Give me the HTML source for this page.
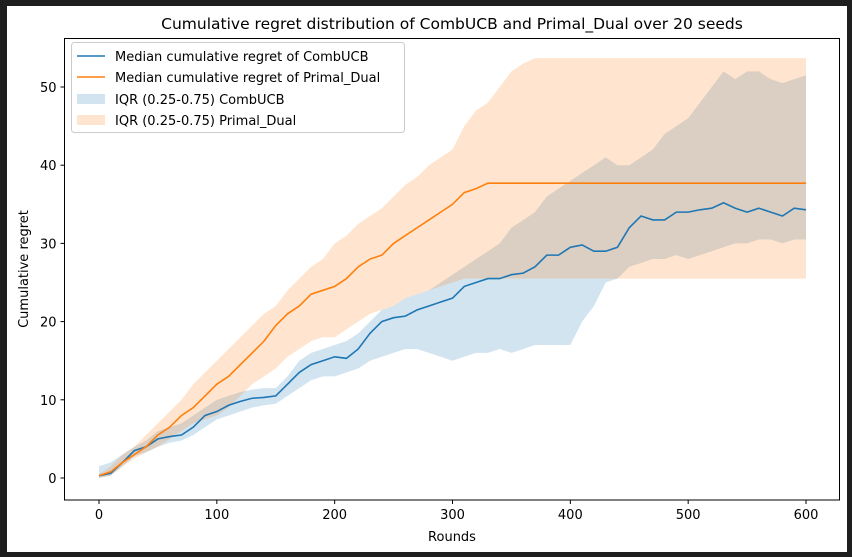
<!DOCTYPE html>
<html><head><meta charset="utf-8">
<style>
html,body{margin:0;padding:0;background:#1e1e1e;}
#wrap{position:absolute;left:7px;top:6px;width:840px;height:546px;background:#fff;}
svg{position:absolute;left:0;top:0;}
text{font-family:"DejaVu Sans","Liberation Sans",sans-serif;fill:#000;}
</style></head>
<body>
<div id="wrap"></div>
<svg id="chart" width="852" height="557"></svg>
<script>
const rounds = [0,10,20,30,40,50,60,70,80,90,100,110,120,130,140,150,160,170,180,190,200,210,220,230,240,250,260,270,280,290,300,310,320,330,340,350,360,370,380,390,400,410,420,430,440,450,460,470,480,490,500,510,520,530,540,550,560,570,580,590,600];
const combMed = [0.3,0.6,2,3.5,4,5,5.3,5.5,6.5,8,8.5,9.3,9.8,10.2,10.3,10.5,12,13.5,14.5,15,15.5,15.3,16.5,18.5,20,20.5,20.7,21.5,22,22.5,23,24.5,25,25.5,25.5,26,26.2,27,28.5,28.5,29.5,29.8,29,29,29.5,32,33.5,33,33,34,34,34.3,34.5,35.2,34.5,34,34.5,34,33.5,34.5,34.3];
const combLow = [0,0.3,1.5,2.8,3.3,4,4.5,4.8,5.5,6.5,7.5,8,8.5,9,9.3,9.5,10.5,11.5,12.5,13,13,13.5,14,15,15.5,16,16.5,16.5,16,15.5,15,15.5,16,16,16.5,16,16.5,17,17,17,17,20,22,25,25.5,27,27.5,28,28,28.5,28,28.5,29,29.5,30,30,30.5,30.5,30,30.5,30.5];
const combHigh = [1.5,2,3,4,4.8,6,6.5,7,8,9,10,10.5,11,11.3,11.5,11.5,13,15,16,16.5,17,17.5,18.5,20,21.5,22,23,23.5,24,25,26,27,28,29,30,32,33,34,36,37,38,39,40,41,40,40,41,42,44,45,46,48,50,52,51,52,52,51,50.5,51,51.5];
const pdMed = [0.3,0.8,2,3,4,5.5,6.5,8,9,10.5,12,13,14.5,16,17.5,19.5,21,22,23.5,24,24.5,25.5,27,28,28.5,30,31,32,33,34,35,36.5,37,37.7,37.7,37.7,37.7,37.7,37.7,37.7,37.7,37.7,37.7,37.7,37.7,37.7,37.7,37.7,37.7,37.7,37.7,37.7,37.7,37.7,37.7,37.7,37.7,37.7,37.7,37.7,37.7];
const pdLow = [0,0.3,1.5,2.5,3.3,4,5,6,7,7.5,8,9,10.5,12,13,14,15.5,16.5,17.5,18,18,19,20,21,21.5,22,23,23.5,24,24.5,25,25.5,25.5,25.5,25.5,25.5,25.5,25.5,25.5,25.5,25.5,25.5,25.5,25.5,25.5,25.5,25.5,25.5,25.5,25.5,25.5,25.5,25.5,25.5,25.5,25.5,25.5,25.5,25.5,25.5,25.5];
const pdHigh = [0.5,1.5,3,4,5.5,7,8.5,10,12,13.5,15,16.5,18,19.5,21,22,24,25.5,27,28,30,31,32.5,33.5,34.5,36,37.5,38.5,40,41,42,45,47,48,50,52,53,53.7,53.7,53.7,53.7,53.7,53.7,53.7,53.7,53.7,53.7,53.7,53.7,53.7,53.7,53.7,53.7,53.7,53.7,53.7,53.7,53.7,53.7,53.7,53.7];
const xTicks = [0,100,200,300,400,500,600];
const yTicks = [0,10,20,30,40,50];

const NS="http://www.w3.org/2000/svg";
const svg=document.getElementById('chart');
const L=64.5,R=839.5,T=38.5,B=500;
const xs=v=>99+v*(806-99)/600;
const ys=v=>478-v*(478-87)/50;
function mk(tag,attrs,parent){const e=document.createElementNS(NS,tag);for(const k in attrs)e.setAttribute(k,attrs[k]);(parent||svg).appendChild(e);return e;}
function band(lo,hi,color,name){
  let d='M'+rounds.map((r,i)=>xs(r)+','+ys(hi[i])).join('L');
  for(let i=rounds.length-1;i>=0;i--)d+='L'+xs(rounds[i])+','+ys(lo[i]);
  const p=mk('path',{d:d+'Z',fill:color,'fill-opacity':0.2,stroke:'none'});
  
  
}
function line(vals,color,name){
  const p=mk('path',{d:'M'+rounds.map((r,i)=>xs(r)+','+ys(vals[i])).join('L'),fill:'none',stroke:color,'stroke-width':1.6});
  
  
}
band(combLow,combHigh,'#1f77b4','iqr-combucb');
band(pdLow,pdHigh,'#ff7f0e','iqr-primal-dual');
line(combMed,'#1f77b4','median-combucb');
line(pdMed,'#ff7f0e','median-primal-dual');
const ax=mk('rect',{x:L,y:T,width:R-L,height:B-T,fill:'none',stroke:'#000','stroke-width':1});


xTicks.forEach(v=>{
  mk('line',{x1:xs(v),x2:xs(v),y1:B,y2:B+4,stroke:'#000'});
  const t=mk('text',{x:xs(v),y:B+19,'text-anchor':'middle','font-size':13});
  t.textContent=v;
  
  
});
yTicks.forEach(v=>{
  mk('line',{x1:L-4,x2:L,y1:ys(v),y2:ys(v),stroke:'#000'});
  const t=mk('text',{x:L-8,y:ys(v)+5,'text-anchor':'end','font-size':13});
  t.textContent=v;
  
  
});
</script>
<svg width="852" height="557" style="position:absolute;left:0;top:0">
<text x="452" y="29" text-anchor="middle" font-size="15.5">Cumulative regret distribution of CombUCB and Primal_Dual over 20 seeds</text>
<text x="452" y="541" text-anchor="middle" font-size="13">Rounds</text>
<text x="28" y="269" text-anchor="middle" font-size="13" transform="rotate(-90 28 269)">Cumulative regret</text>
<g>
<rect x="71.5" y="42.5" width="333" height="90" rx="3" fill="#fff" fill-opacity="0.8" stroke="#ccc"/>
<line x1="77" x2="105" y1="56" y2="56" stroke="#1f77b4" stroke-width="1.6"/>
<text x="115" y="61" font-size="13">Median cumulative regret of CombUCB</text>
<line x1="77" x2="105" y1="77" y2="77" stroke="#ff7f0e" stroke-width="1.6"/>
<text x="115" y="82" font-size="13">Median cumulative regret of Primal_Dual</text>
<rect x="77" y="94" width="28" height="10" fill="#1f77b4" fill-opacity="0.2"/>
<text x="115" y="104" font-size="13">IQR (0.25-0.75) CombUCB</text>
<rect x="77" y="115" width="28" height="10" fill="#ff7f0e" fill-opacity="0.2"/>
<text x="115" y="125" font-size="13">IQR (0.25-0.75) Primal_Dual</text>
</g>
</svg>
</body></html>
